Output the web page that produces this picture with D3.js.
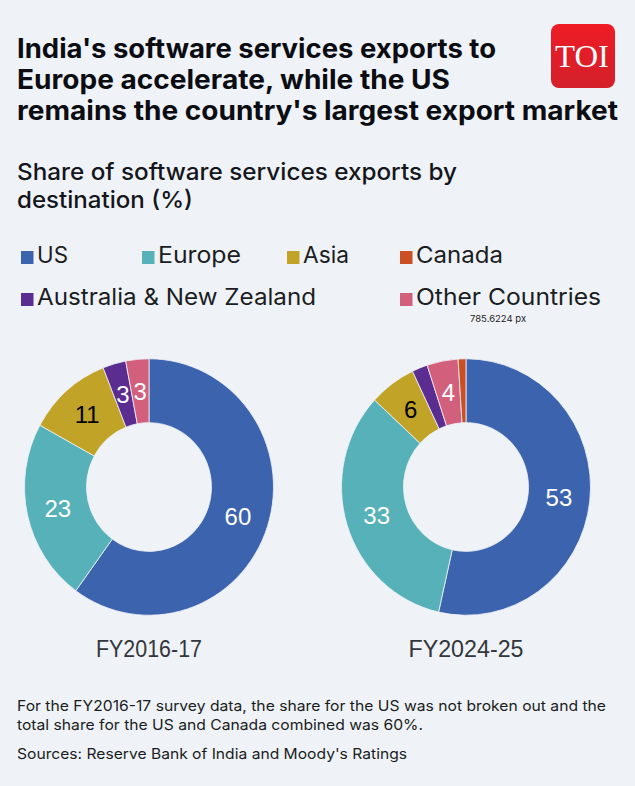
<!DOCTYPE html>
<html>
<head>
<meta charset="utf-8">
<script src="https://cdn.jsdelivr.net/npm/d3@7"></script>
<style>
  html, body { margin: 0; padding: 0; background: #eff3f8; }
  svg { display: block; }
  text { font-family: Inter, "Open Sans", sans-serif; }
</style>
</head>
<body>
<svg id="chart" width="635" height="786"></svg>
<script>
const titleLines = [
  "India's software services exports to",
  "Europe accelerate, while the US",
  "remains the country's largest export market",
];
const subtitleLines = ["Share of software services exports by", "destination (%)"];
const noteLines = [
  "For the FY2016-17 survey data, the share for the US was not broken out and the",
  "total share for the US and Canada combined was 60%.",
];
const sourceLine = "Sources: Reserve Bank of India and Moody's Ratings";

const legendNames = ["US", "Europe", "Asia", "Canada", "Australia & New Zealand", "Other Countries"];
const legendColors = ["#3c63ad", "#56b1b9", "#c1a327", "#cb4f24", "#5b2d90", "#d2607d"];

// slices run clockwise from the top, in this order
const sliceOrder = ["US", "Europe", "Asia", "Australia & New Zealand", "Other Countries", "Canada"];
const values2016 = [60, 23, 11, 3, 3, 0];
const values2024 = [53, 33, 6, 2, 4, 1];

const svg = d3.select("#chart");
const color = d3.scaleOrdinal(legendNames, legendColors);

// the original font is wider than anything installed, so stretch each line to its width
const fitWidth = (sel, widths) =>
  sel.attr("textLength", (d, i) => widths[i]).attr("lengthAdjust", "spacingAndGlyphs");

/*** header ***/
svg.append("g").selectAll("text").data(titleLines).enter().append("text")
  .attr("x", 17)
  .attr("y", (d, i) => 58 + i * 31)
  .attr("font-size", 26.5)
  .attr("font-weight", 700)
  .attr("fill", "#0b0d12")
  .text((d) => d)
  .call(fitWidth, [479, 433, 601]);

svg.append("g").selectAll("text").data(subtitleLines).enter().append("text")
  .attr("x", 17)
  .attr("y", (d, i) => 180 + i * 27.5)
  .attr("font-size", 23.5)
  .attr("font-weight", 500)
  .attr("fill", "#14161b")
  .text((d) => d)
  .call(fitWidth, [440, 176]);

/*** logo ***/
const grad = svg.append("defs").append("linearGradient")
  .attr("id", "logoRed").attr("x1", 0).attr("y1", 0).attr("x2", 0).attr("y2", 1);
grad.append("stop").attr("offset", "0%").attr("stop-color", "#ee1c25");
grad.append("stop").attr("offset", "100%").attr("stop-color", "#d3202a");

svg.append("rect")
  .attr("x", 551).attr("y", 24).attr("width", 64).attr("height", 64).attr("rx", 8)
  .attr("fill", "url(#logoRed)");
svg.append("text")
  .attr("x", 555).attr("y", 67)
  .attr("font-size", 32)
  .attr("fill", "#fff")
  .style("font-family", "'Liberation Serif', serif")
  .attr("textLength", 54)
  .attr("lengthAdjust", "spacingAndGlyphs")
  .text("TOI");

/*** legend ***/
const legendX = [21, 142, 287, 400, 21, 400];
const legendY = [251, 251, 251, 251, 293, 293];
const legendW = [31, 83, 46, 87, 279, 185];
const legend = svg.append("g").selectAll("g").data(legendNames).enter().append("g")
  .attr("transform", (d, i) => `translate(${legendX[i]},${legendY[i]})`);
legend.append("rect")
  .attr("width", 12.5).attr("height", 13)
  .attr("fill", (d) => color(d));
legend.append("text")
  .attr("x", 16).attr("y", 12)
  .attr("font-size", 22.5)
  .attr("fill", "#1b1d22")
  .text((d) => d)
  .call(fitWidth, legendW);

svg.append("text")
  .attr("x", 470).attr("y", 322)
  .attr("font-size", 9.5)
  .attr("fill", "#222")
  .text("785.6224 px");

/*** donuts ***/
const stretchY = 1.03; // the reference rings are slightly taller than wide
const pie = d3.pie().sort(null).value((d) => d.value);
const arc = d3.arc().innerRadius(62.5).outerRadius(124.5);
const fmtLabel = (d) => (d.data.value >= 3 ? d.data.value : "");

const drawDonut = (values, cx, label, labelW) => {
  const rows = sliceOrder.map((name, i) => ({ name, value: values[i] })).filter((d) => d.value > 0);
  const g = svg.append("g").attr("transform", `translate(${cx},487)`);

  g.append("g").attr("transform", `scale(1,${stretchY})`)
    .selectAll("path").data(pie(rows)).enter().append("path")
    .attr("d", arc)
    .attr("fill", (d) => color(d.data.name))
    .attr("stroke", "#eff3f8")
    .attr("stroke-width", 0.8);

  g.selectAll("text.val").data(pie(rows)).enter().append("text")
    .attr("class", "val")
    .attr("transform", (d) => {
      const [x, y] = arc.centroid(d);
      return `translate(${x},${y * stretchY})`;
    })
    .attr("text-anchor", "middle")
    .attr("dy", "0.36em")
    .attr("font-size", 24)
    .attr("fill", (d) => (d.data.name === "Asia" ? "#000" : "#fff"))
    .style("font-family", "'Liberation Sans', sans-serif")
    .text(fmtLabel);

  g.append("text")
    .attr("y", 169.5)
    .attr("text-anchor", "middle")
    .attr("font-size", 23.5)
    .attr("fill", "#33363c")
    .style("font-family", "'Liberation Sans', sans-serif")
    .attr("textLength", labelW)
    .attr("lengthAdjust", "spacingAndGlyphs")
    .text(label);
};

drawDonut(values2016, 149, "FY2016-17", 106);
drawDonut(values2024, 466, "FY2024-25", 115);

/*** footer ***/
svg.append("g").selectAll("text").data(noteLines).enter().append("text")
  .attr("x", 17)
  .attr("y", (d, i) => 711 + i * 19)
  .attr("font-size", 14.5)
  .attr("fill", "#1b1d22")
  .text((d) => d)
  .call(fitWidth, [589, 406]);

svg.append("text")
  .datum(sourceLine)
  .attr("x", 17).attr("y", 759)
  .attr("font-size", 14.5)
  .attr("fill", "#1b1d22")
  .text((d) => d)
  .attr("textLength", 390)
  .attr("lengthAdjust", "spacingAndGlyphs");
</script>
</body>
</html>
